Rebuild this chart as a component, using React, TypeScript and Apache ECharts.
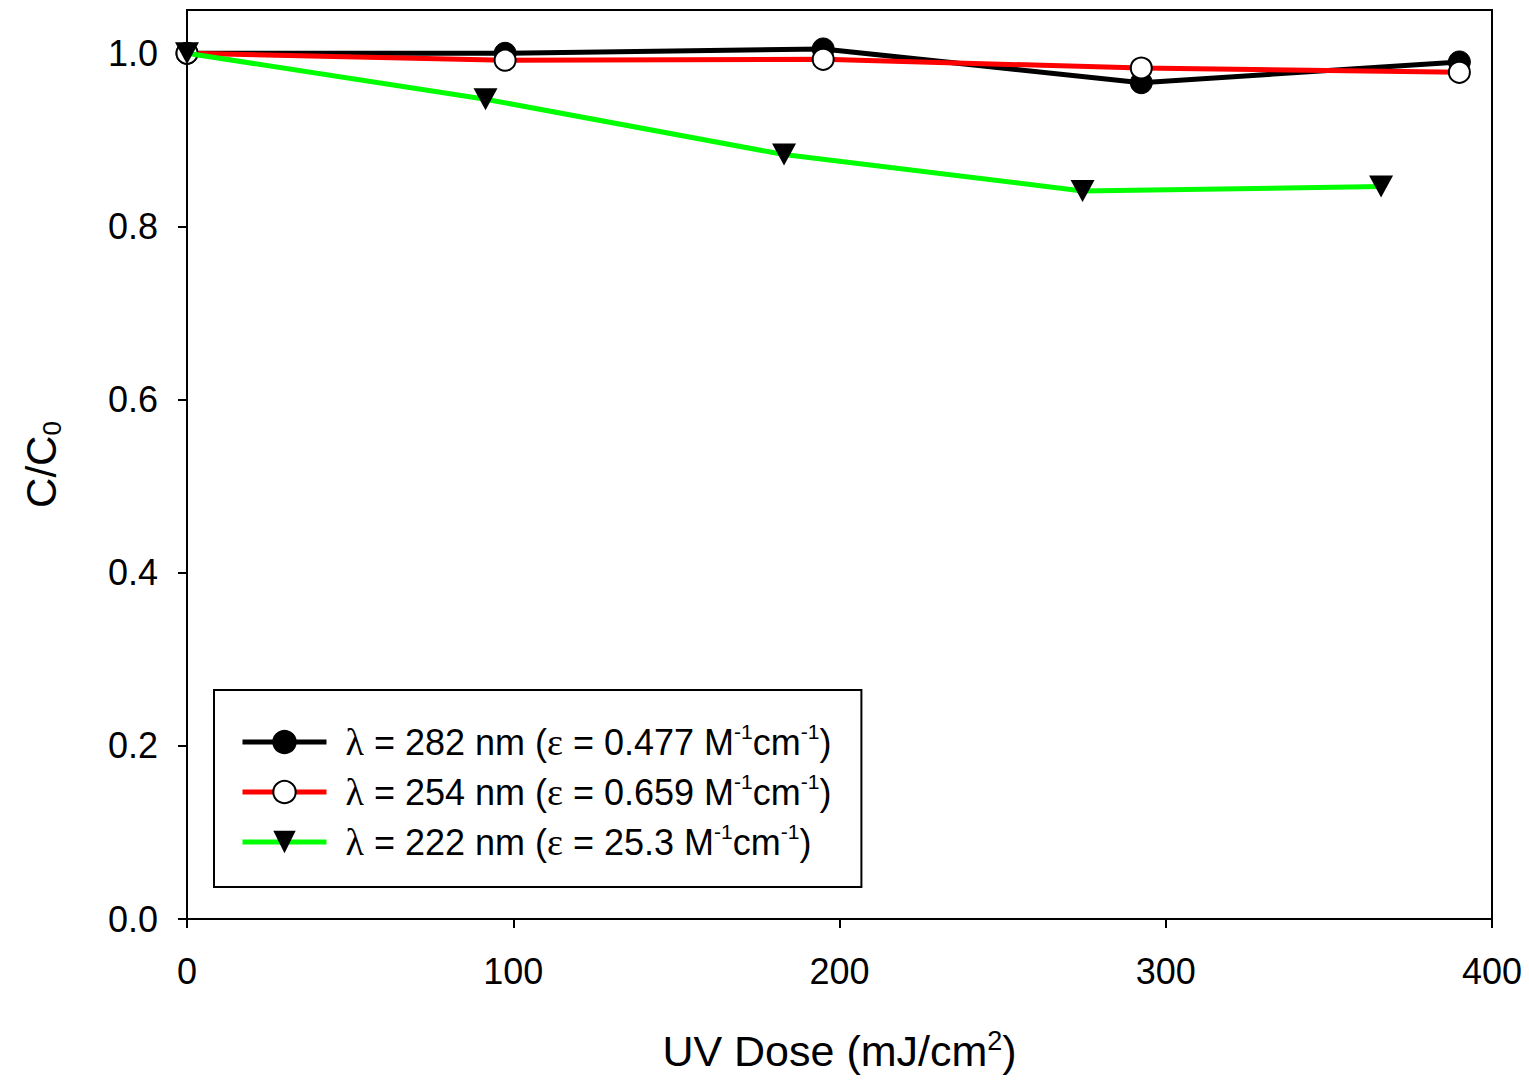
import React, { useEffect, useRef } from "react";
import * as echarts from "echarts";

const doses282 = [0, 97.5, 195, 292.5, 390];
const ratio282 = [1.0, 1.0, 1.005, 0.966, 0.99];
const doses254 = [0, 97.5, 195, 292.5, 390];
const ratio254 = [1.0, 0.992, 0.993, 0.983, 0.978];
const doses222 = [0, 91.5, 183, 274.5, 366];
const ratio222 = [1.0, 0.947, 0.883, 0.841, 0.846];

const seriesNames = [
  "{sym|λ} = 282 nm ({sym|ε} = 0.477 M{sup|-1}cm{sup|-1})",
  "{sym|λ} = 254 nm ({sym|ε} = 0.659 M{sup|-1}cm{sup|-1})",
  "{sym|λ} = 222 nm ({sym|ε} = 25.3 M{sup|-1}cm{sup|-1})",
];

const xTicks = [0, 100, 200, 300, 400];
const yTicks = [0, 0.2, 0.4, 0.6, 0.8, 1.0];

const FONT = "Liberation Sans, Arial, sans-serif";

function pairs(xs: number[], ys: number[]) {
  return xs.map((x, i) => [x, ys[i]]);
}

export default function App() {
  const ref = useRef<HTMLDivElement>(null);
  useEffect(() => {
    if (!ref.current) return;
    const chart = echarts.init(ref.current, undefined, { renderer: "svg" });
    const richText = {
      sup: { fontSize: 21, lineHeight: 22, verticalAlign: "top", fontFamily: FONT, color: "#000" },
      sym: { fontSize: 38, fontFamily: "Liberation Serif, serif", color: "#000", lineHeight: 42 },
    };
    chart.setOption({
      animation: false,
      backgroundColor: "#fff",
      grid: {
        left: 187,
        right: 37,
        top: 10,
        bottom: 156,
        show: true,
        borderColor: "#000",
        borderWidth: 2,
        backgroundColor: "transparent",
      },
      legend: {
        orient: "vertical",
        left: 214,
        top: 690,
        padding: [31, 30, 24, 26],
        itemGap: 8,
        itemWidth: 84,
        itemHeight: 28,
        borderColor: "#000",
        borderWidth: 2,
        backgroundColor: "#fff",
        lineStyle: { width: 5 },
        textStyle: {
          fontFamily: FONT,
          fontSize: 36,
          color: "#000",
          lineHeight: 42,
          padding: [0, 0, 0, 14],
          rich: richText,
        },
        data: seriesNames,
      },
      xAxis: {
        type: "value",
        min: 0,
        max: 400,
        interval: 100,
        name: "UV Dose (mJ/cm{sup|2})",
        nameLocation: "middle",
        nameGap: 108,
        nameTextStyle: {
          fontFamily: FONT,
          fontSize: 43,
          color: "#000",
          lineHeight: 48,
          rich: {
            sup: { fontSize: 27, lineHeight: 27, verticalAlign: "top", fontFamily: FONT, color: "#000" },
          },
        },
        axisLine: { show: true, lineStyle: { color: "#000", width: 2 } },
        axisTick: { show: true, inside: false, length: 9, lineStyle: { color: "#000", width: 2 } },
        axisLabel: {
          fontFamily: FONT,
          fontSize: 36,
          color: "#000",
          margin: 34,
          formatter: (v: number) => (xTicks.includes(v) ? String(v) : ""),
        },
        splitLine: { show: false },
      },
      yAxis: {
        type: "value",
        min: 0,
        max: 1.05,
        interval: 0.2,
        name: "C/C{sub|0}",
        nameLocation: "middle",
        nameGap: 122,
        nameTextStyle: {
          fontFamily: FONT,
          fontSize: 42,
          color: "#000",
          lineHeight: 48,
          rich: {
            sub: { fontSize: 26, lineHeight: 26, verticalAlign: "bottom", fontFamily: FONT, color: "#000" },
          },
        },
        axisLine: { show: true, lineStyle: { color: "#000", width: 2 } },
        axisTick: { show: true, inside: false, length: 9, lineStyle: { color: "#000", width: 2 } },
        axisLabel: {
          fontFamily: FONT,
          fontSize: 36,
          color: "#000",
          margin: 29,
          showMaxLabel: false,
          formatter: (v: number) =>
            yTicks.some((t) => Math.abs(t - v) < 1e-6) ? v.toFixed(1) : "",
        },
        splitLine: { show: false },
      },
      series: [
        {
          name: seriesNames[0],
          type: "line",
          data: pairs(doses282, ratio282),
          symbol: "circle",
          symbolSize: 22,
          lineStyle: { color: "#000", width: 5 },
          itemStyle: { color: "#000", borderColor: "#000", borderWidth: 1 },
          z: 2,
        },
        {
          name: seriesNames[1],
          type: "line",
          data: pairs(doses254, ratio254),
          symbol: "circle",
          symbolSize: 21,
          lineStyle: { color: "#ff0000", width: 5 },
          itemStyle: { color: "#fff", borderColor: "#000", borderWidth: 2 },
          z: 3,
        },
        {
          name: seriesNames[2],
          type: "line",
          data: pairs(doses222, ratio222),
          symbol: "path://M0,0 L24,0 L12,22 Z",
          symbolSize: [24, 22],
          lineStyle: { color: "#00ff00", width: 5 },
          itemStyle: { color: "#000", borderColor: "#000", borderWidth: 0 },
          z: 4,
        },
      ],
    });
    return () => chart.dispose();
  }, []);
  return (
    <div
      ref={ref}
      style={{ position: "fixed", left: 0, top: 0, width: 1529, height: 1080, background: "#fff" }}
    />
  );
}
